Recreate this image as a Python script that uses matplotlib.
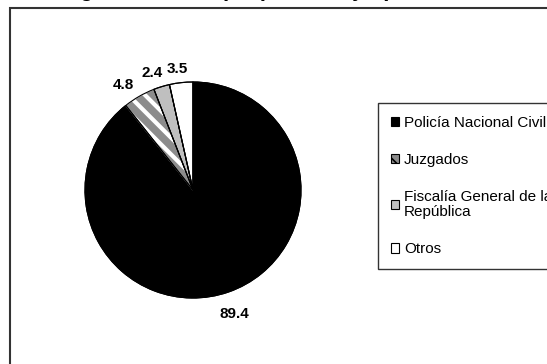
import numpy as np
import matplotlib.pyplot as plt
from matplotlib.patches import Rectangle, Patch

plt.rcParams['font.family'] = ['Liberation Sans', 'DejaVu Sans']
plt.rcParams['hatch.linewidth'] = 3

categorias = ['Policía Nacional Civil', 'Juzgados', 'Fiscalía General de la\nRepública', 'Otros']
valores = [89.4, 4.8, 2.4, 3.5]
etiquetas = ['89.4', '4.8', '2.4', '3.5']
titulo = 'Origen del caso (en porcentajes)'

colores = ['black', '#8c8c8c', '#bfbfbf', 'white']
tramas = [None, '\\\\', None, None]

fig = plt.figure(figsize=(5.47, 3.64), dpi=100)
W, H = 547, 364

# marco del area del grafico (sale del borde derecho e inferior)
fig.patches.append(Rectangle((10 / W, -0.1), 1.0, 1 - 8 / H + 0.1,
                             transform=fig.transFigure, fill=False,
                             edgecolor='#333333', linewidth=1.5))

# titulo cortado por el borde superior, como en el original
fig.text(220 / W, 1 + 4 / H, titulo, ha='center', va='baseline',
         fontsize=16, fontweight='bold')

ax = fig.add_axes([(193 - 108) / W, (H - 298) / H, 216 / W, 216 / H])
wedges, _ = ax.pie(valores, colors=colores, startangle=90, counterclock=False,
                   wedgeprops=dict(edgecolor='black', linewidth=0.8))
for w, t in zip(wedges, tramas):
    if t:
        w.set_hatch(t)
        w.set_edgecolor('white')
# contorno negro encima de la trama
ax.pie(valores, colors=['none'] * len(valores), startangle=90, counterclock=False,
       wedgeprops=dict(edgecolor='black', linewidth=0.8, fill=False))

for w, lab in zip(wedges, etiquetas):
    ang = np.deg2rad((w.theta1 + w.theta2) / 2)
    x, y = 1.17 * np.cos(ang), 1.17 * np.sin(ang)
    ax.text(x * 1.1 if x < 0 else x, y - 0.04, lab, ha='center', va='center',
            fontsize=11, fontweight='bold')
ax.set_xlim(-1, 1)
ax.set_ylim(-1, 1)
ax.set_aspect('equal')

plt.rcParams['hatch.linewidth'] = 1.2
handles = [Patch(facecolor=c, edgecolor='black', hatch=t, linewidth=0.8)
           for c, t in zip(colores, tramas)]
leg = fig.legend(handles, categorias, loc='upper left',
                 bbox_to_anchor=(378 / W, 1 - 103 / H), fontsize=11,
                 frameon=True, fancybox=False, edgecolor='black',
                 handlelength=0.55, handleheight=0.55, handletextpad=0.3,
                 labelspacing=1.5, borderpad=0.85, borderaxespad=0)
leg.get_frame().set_linewidth(1.0)
for t in leg.get_texts():
    t.set_linespacing(1.15)

fig.savefig('out.png', dpi=100)
